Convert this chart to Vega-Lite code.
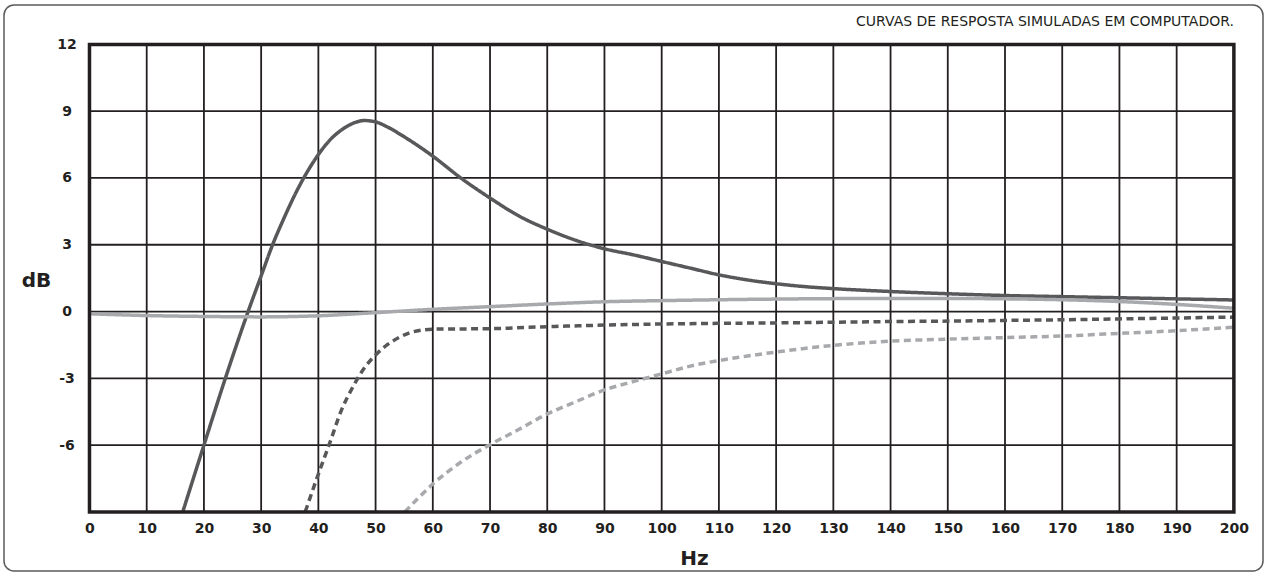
{
  "$schema": "https://vega.github.io/schema/vega-lite/v6.json",
  "width": 1259,
  "height": 566,
  "autosize": {"type": "none"},
  "padding": {"left": 4, "top": 5, "right": 2, "bottom": 2},
  "background": "white",
  "config": {
    "view": {"stroke": "#5a5a5c", "strokeWidth": 1.5, "cornerRadius": 10, "fill": "white"},
    "axis": {
      "domain": false, "ticks": false, "tickSize": 0, "grid": false,
      "labelFlush": false, "labelOverlap": false,
      "labelFont": "DejaVu Sans", "labelFontWeight": "bold", "labelFontSize": 14, "labelColor": "#231f20",
      "titleFont": "DejaVu Sans", "titleFontWeight": "bold", "titleFontSize": 20, "titleColor": "#231f20"
    }
  },
  "datasets": {
    "vgrid": [
      {"hz": 10}, {"hz": 20}, {"hz": 30}, {"hz": 40}, {"hz": 50}, {"hz": 60}, {"hz": 70}, {"hz": 80}, {"hz": 90}, {"hz": 100},
      {"hz": 110}, {"hz": 120}, {"hz": 130}, {"hz": 140}, {"hz": 150}, {"hz": 160}, {"hz": 170}, {"hz": 180}, {"hz": 190}
    ],
    "hgrid": [
      {"db": -6}, {"db": -3}, {"db": 0}, {"db": 3}, {"db": 6}, {"db": 9}
    ],
    "curves": [
      {"series": "A", "hz": 16.3, "db": -9},
      {"series": "A", "hz": 20, "db": -6.0},
      {"series": "A", "hz": 24, "db": -2.8},
      {"series": "A", "hz": 28, "db": 0.2},
      {"series": "A", "hz": 30, "db": 1.6},
      {"series": "A", "hz": 32, "db": 3.0},
      {"series": "A", "hz": 34, "db": 4.2},
      {"series": "A", "hz": 36, "db": 5.3},
      {"series": "A", "hz": 38, "db": 6.25},
      {"series": "A", "hz": 40, "db": 7.05},
      {"series": "A", "hz": 42, "db": 7.7},
      {"series": "A", "hz": 44, "db": 8.15},
      {"series": "A", "hz": 46, "db": 8.45},
      {"series": "A", "hz": 48, "db": 8.58},
      {"series": "A", "hz": 50, "db": 8.52},
      {"series": "A", "hz": 52, "db": 8.3},
      {"series": "A", "hz": 55, "db": 7.85},
      {"series": "A", "hz": 60, "db": 6.98},
      {"series": "A", "hz": 65, "db": 5.98},
      {"series": "A", "hz": 70, "db": 5.1},
      {"series": "A", "hz": 75, "db": 4.3},
      {"series": "A", "hz": 80, "db": 3.7},
      {"series": "A", "hz": 85, "db": 3.2},
      {"series": "A", "hz": 90, "db": 2.82},
      {"series": "A", "hz": 95, "db": 2.55},
      {"series": "A", "hz": 100, "db": 2.25},
      {"series": "A", "hz": 105, "db": 1.95},
      {"series": "A", "hz": 110, "db": 1.65},
      {"series": "A", "hz": 115, "db": 1.42},
      {"series": "A", "hz": 120, "db": 1.25},
      {"series": "A", "hz": 125, "db": 1.12},
      {"series": "A", "hz": 130, "db": 1.03},
      {"series": "A", "hz": 140, "db": 0.9},
      {"series": "A", "hz": 150, "db": 0.8},
      {"series": "A", "hz": 160, "db": 0.72},
      {"series": "A", "hz": 170, "db": 0.67},
      {"series": "A", "hz": 180, "db": 0.62},
      {"series": "A", "hz": 190, "db": 0.57},
      {"series": "A", "hz": 200, "db": 0.52},

      {"series": "B", "hz": 0, "db": -0.1},
      {"series": "B", "hz": 10, "db": -0.18},
      {"series": "B", "hz": 20, "db": -0.22},
      {"series": "B", "hz": 30, "db": -0.24},
      {"series": "B", "hz": 40, "db": -0.19},
      {"series": "B", "hz": 50, "db": -0.05},
      {"series": "B", "hz": 60, "db": 0.1},
      {"series": "B", "hz": 70, "db": 0.22},
      {"series": "B", "hz": 80, "db": 0.34},
      {"series": "B", "hz": 90, "db": 0.44},
      {"series": "B", "hz": 100, "db": 0.49},
      {"series": "B", "hz": 110, "db": 0.53},
      {"series": "B", "hz": 120, "db": 0.56},
      {"series": "B", "hz": 130, "db": 0.58},
      {"series": "B", "hz": 140, "db": 0.59},
      {"series": "B", "hz": 150, "db": 0.59},
      {"series": "B", "hz": 160, "db": 0.57},
      {"series": "B", "hz": 170, "db": 0.53},
      {"series": "B", "hz": 180, "db": 0.45},
      {"series": "B", "hz": 190, "db": 0.32},
      {"series": "B", "hz": 200, "db": 0.15},

      {"series": "C", "hz": 37.7, "db": -9},
      {"series": "C", "hz": 40, "db": -7.3},
      {"series": "C", "hz": 42, "db": -5.9},
      {"series": "C", "hz": 44, "db": -4.45},
      {"series": "C", "hz": 46, "db": -3.4},
      {"series": "C", "hz": 48, "db": -2.55},
      {"series": "C", "hz": 50, "db": -1.95},
      {"series": "C", "hz": 52, "db": -1.5},
      {"series": "C", "hz": 54, "db": -1.18},
      {"series": "C", "hz": 56, "db": -0.95},
      {"series": "C", "hz": 58, "db": -0.84},
      {"series": "C", "hz": 60, "db": -0.79},
      {"series": "C", "hz": 70, "db": -0.77},
      {"series": "C", "hz": 80, "db": -0.68},
      {"series": "C", "hz": 90, "db": -0.61},
      {"series": "C", "hz": 100, "db": -0.56},
      {"series": "C", "hz": 110, "db": -0.53},
      {"series": "C", "hz": 120, "db": -0.51},
      {"series": "C", "hz": 130, "db": -0.48},
      {"series": "C", "hz": 140, "db": -0.45},
      {"series": "C", "hz": 150, "db": -0.43},
      {"series": "C", "hz": 160, "db": -0.4},
      {"series": "C", "hz": 170, "db": -0.37},
      {"series": "C", "hz": 180, "db": -0.33},
      {"series": "C", "hz": 190, "db": -0.29},
      {"series": "C", "hz": 200, "db": -0.25},

      {"series": "D", "hz": 55.1, "db": -9},
      {"series": "D", "hz": 57, "db": -8.5},
      {"series": "D", "hz": 60, "db": -7.75},
      {"series": "D", "hz": 65, "db": -6.75},
      {"series": "D", "hz": 70, "db": -5.98},
      {"series": "D", "hz": 75, "db": -5.3},
      {"series": "D", "hz": 80, "db": -4.6},
      {"series": "D", "hz": 85, "db": -4.05},
      {"series": "D", "hz": 90, "db": -3.52},
      {"series": "D", "hz": 95, "db": -3.15},
      {"series": "D", "hz": 100, "db": -2.8},
      {"series": "D", "hz": 105, "db": -2.45},
      {"series": "D", "hz": 110, "db": -2.2},
      {"series": "D", "hz": 115, "db": -2.0},
      {"series": "D", "hz": 120, "db": -1.82},
      {"series": "D", "hz": 130, "db": -1.52},
      {"series": "D", "hz": 140, "db": -1.33},
      {"series": "D", "hz": 150, "db": -1.24},
      {"series": "D", "hz": 160, "db": -1.17},
      {"series": "D", "hz": 170, "db": -1.1},
      {"series": "D", "hz": 180, "db": -0.98},
      {"series": "D", "hz": 190, "db": -0.86},
      {"series": "D", "hz": 200, "db": -0.7}
    ]
  },
  "layer": [
    {
      "data": {"name": "vgrid"},
      "mark": {"type": "rule", "color": "#231f20", "strokeWidth": 1.8},
      "encoding": {
        "x": {"field": "hz", "type": "quantitative", "scale": {"domain": [-14.94, 205.09], "nice": false, "zero": false}},
        "y": {"datum": -9, "type": "quantitative", "scale": {"domain": [-11.655, 13.77], "nice": false, "zero": false}},
        "y2": {"datum": 12}
      }
    },
    {
      "data": {"name": "hgrid"},
      "mark": {"type": "rule", "color": "#231f20", "strokeWidth": 1.8},
      "encoding": {
        "y": {"field": "db", "type": "quantitative", "scale": {"domain": [-11.655, 13.77], "nice": false, "zero": false}},
        "x": {"datum": 0, "type": "quantitative", "scale": {"domain": [-14.94, 205.09], "nice": false, "zero": false}},
        "x2": {"datum": 200}
      }
    },
    {
      "data": {"name": "curves"},
      "mark": {"type": "line", "strokeWidth": 3.5, "interpolate": "monotone", "strokeCap": "butt"},
      "encoding": {
        "x": {
          "field": "hz", "type": "quantitative",
          "scale": {"domain": [-14.94, 205.09], "nice": false, "zero": false},
          "axis": {
            "orient": "bottom", "offset": -59.1,
            "values": [0, 10, 20, 30, 40, 50, 60, 70, 80, 90, 100, 110, 120, 130, 140, 150, 160, 170, 180, 190, 200],
            "labelPadding": 10,
            "title": "Hz",
            "titleX": 690, "titleY": 47, "titleAlign": "center", "titleBaseline": "middle"
          }
        },
        "y": {
          "field": "db", "type": "quantitative",
          "scale": {"domain": [-11.655, 13.77], "nice": false, "zero": false},
          "axis": {
            "orient": "left", "offset": -85.5,
            "values": [-6, -3, 0, 3, 6, 9, 12],
            "labelExpr": "datum.value < 0 ? '-' + abs(datum.value) : '' + datum.value",
            "labelPadding": 23, "labelAlign": "center", "labelBaseline": "middle",
            "title": "dB",
            "titleAngle": 0, "titleX": -53.5, "titleY": 275, "titleAlign": "center", "titleBaseline": "middle"
          }
        },
        "color": {
          "field": "series", "type": "nominal",
          "scale": {"domain": ["A", "B", "C", "D"], "range": ["#58585b", "#a7a9ac", "#58585b", "#a7a9ac"]},
          "legend": null
        },
        "strokeDash": {
          "field": "series", "type": "nominal",
          "scale": {"domain": ["A", "B", "C", "D"], "range": [[1, 0], [1, 0], [7, 4.5], [7, 4.5]]},
          "legend": null
        }
      }
    },
    {
      "data": {"values": [{"frame": "plot"}]},
      "mark": {"type": "rect", "filled": false, "stroke": "#231f20", "strokeWidth": 3.5},
      "encoding": {
        "x": {"datum": 0, "type": "quantitative", "scale": {"domain": [-14.94, 205.09], "nice": false, "zero": false}},
        "x2": {"datum": 200},
        "y": {"datum": -9, "type": "quantitative", "scale": {"domain": [-11.655, 13.77], "nice": false, "zero": false}},
        "y2": {"datum": 12}
      }
    },
    {
      "data": {"values": [{"label": "CURVAS DE RESPOSTA SIMULADAS EM COMPUTADOR."}]},
      "mark": {"type": "text", "align": "right", "baseline": "middle", "font": "DejaVu Sans", "fontSize": 14, "color": "#231f20"},
      "encoding": {
        "x": {"datum": 200, "type": "quantitative", "scale": {"domain": [-14.94, 205.09], "nice": false, "zero": false}},
        "y": {"datum": 13, "type": "quantitative", "scale": {"domain": [-11.655, 13.77], "nice": false, "zero": false}},
        "text": {"field": "label"}
      }
    }
  ]
}
